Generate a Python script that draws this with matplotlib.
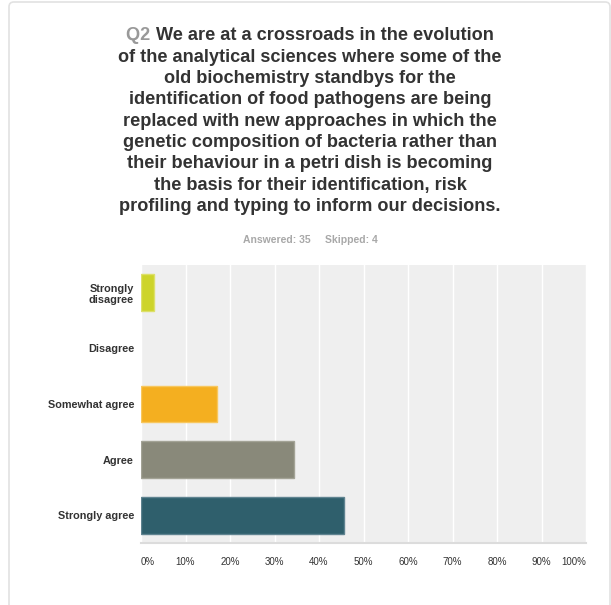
import matplotlib.pyplot as plt
import matplotlib.patches as mpatches

plt.rcParams['font.family'] = ['Liberation Sans', 'DejaVu Sans']

# survey responses (share of 35 answers)
answers = ['Strongly\ndisagree', 'Disagree', 'Somewhat agree', 'Agree', 'Strongly agree']
shares = [2.86, 0.0, 17.14, 34.29, 45.71]
colors = ['#cdd42a', '#c7c7c7', '#f4af20', '#89897a', '#2f5f6c']
edges = ['#dde06a', '#d8d8d8', '#f8c75e', '#a3a396', '#5f8390']
xticks = [0, 10, 20, 30, 40, 50, 60, 70, 80, 90, 100]

question = ['We are at a crossroads in the evolution',
            'of the analytical sciences where some of the',
            'old biochemistry standbys for the',
            'identification of food pathogens are being',
            'replaced with new approaches in which the',
            'genetic composition of bacteria rather than',
            'their behaviour in a petri dish is becoming',
            'the basis for their identification, risk',
            'profiling and typing to inform our decisions.']
answered, skipped = 35, 4

W, H = 611, 605
fig = plt.figure(figsize=(W / 100, H / 100), dpi=100)

# light rounded panel border
frame = mpatches.FancyBboxPatch((9 / W, -0.05), 601 / W, 1.05 - 2 / H,
                                boxstyle='round,pad=0,rounding_size=0.008',
                                transform=fig.transFigure, fill=False,
                                ec='#e2e2e2', lw=1.2)
fig.patches.append(frame)

ax = fig.add_axes([141 / W, 1 - 543 / H, (586 - 141) / W, (543 - 265) / H])
ax.set_facecolor('#efefef')
ypos = list(range(len(answers)))
bars = ax.barh(ypos, shares, height=0.665, color=colors, edgecolor=edges, lw=1, zorder=3)
for b, v in zip(bars, shares):
    if v == 0:
        b.set_visible(False)
ax.set_xlim(0, 100)
ax.set_ylim(len(answers) - 0.5, -0.5)
ax.set_xticks(xticks)
ax.set_xticklabels([f'{t}%' for t in xticks], fontsize=7, color='#333333')
for i, lab in enumerate(ax.get_xticklabels()):
    if i == 0:
        lab.set_ha('left')
    elif i == len(xticks) - 1:
        lab.set_ha('right')
ax.set_yticks(ypos)
ax.set_yticklabels(answers, fontsize=7.8, fontweight='bold', color='#333333',
                   linespacing=1.15)
ax.tick_params(length=0)
ax.tick_params(axis='y', pad=5)
ax.tick_params(axis='x', pad=10)
ax.grid(axis='x', color='white', lw=1, zorder=1)
for s in ['top', 'right', 'left']:
    ax.spines[s].set_visible(False)
ax.spines['bottom'].set_color('#dcdcdc')
ax.spines['bottom'].set_linewidth(1.5)

# question text, first line carries the grey question number
fig.canvas.draw()
renderer = fig.canvas.get_renderer()
fs = 13.1
pitch = 21.3
y0 = 36
q = fig.text(0, 1 - y0 / H, 'Q2 ', fontsize=fs, fontweight='bold', color='#999999',
             va='center', ha='left')
r = fig.text(0, 1 - y0 / H, question[0], fontsize=fs, fontweight='bold',
             color='#333333', va='center', ha='left')
wq = q.get_window_extent(renderer).width
wr = r.get_window_extent(renderer).width
x_start = (310 - (wq + wr) / 2)
q.set_x(x_start / W)
r.set_x((x_start + wq) / W)
for k, line in enumerate(question[1:], start=1):
    fig.text(310 / W, 1 - (y0 + k * pitch) / H, line, fontsize=fs,
             fontweight='bold', color='#333333', ha='center', va='center')

fig.text(310 / W, 1 - 240 / H, f'Answered: {answered}     Skipped: {skipped}',
         fontsize=7.5, fontweight='bold', color='#a8a8a8', ha='center', va='center')

fig.savefig('out.png', dpi=100)
